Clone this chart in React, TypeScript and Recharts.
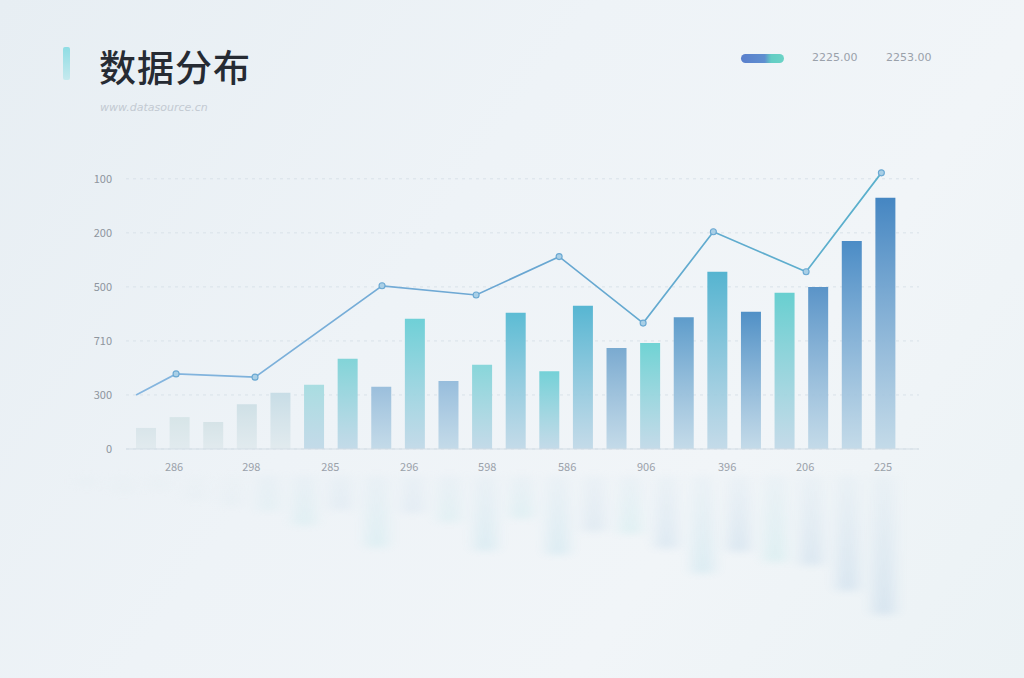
import React from "react";
import {
  ComposedChart,
  BarChart,
  Bar,
  Line,
  XAxis,
  YAxis,
  CartesianGrid,
  Cell,
} from "recharts";

// bar heights, left to right
const barValues = [39, 59, 50, 83, 104, 119, 167, 115, 241, 126, 156, 252, 144, 265, 187, 196, 244, 328, 254, 289, 300, 385, 465];
const barNames = barValues.map((_, i) => "b" + i);

// line points (x in bar-index units)
const lineX = [-0.3, 0.89, 3.24, 7.02, 9.82, 12.29, 14.79, 16.88, 19.64, 21.88];
const lineValues = [100, 139, 133, 302, 285, 356, 233, 402, 328, 511];

// axis labels
const yMax = 520;
const yTicks = [0, 100, 200, 300, 400, 500];
const yLabels = ["0", "300", "710", "500", "200", "100"];
const xTickPos = [0.83, 3.13, 5.48, 7.83, 10.15, 12.53, 14.88, 17.29, 19.61, 21.93];
const xLabels = ["286", "298", "285", "296", "598", "586", "906", "396", "206", "225"];

const legendLabels = ["2225.00", "2253.00"];

const barTop = [
  "#d9e5ea", "#d7e5e8", "#d5e3e7", "#cfe0e6", "#c8dde6", "#a9dde1", "#82d4d8", "#9bbfdc",
  "#6fd0d7", "#97bddc", "#88d6da", "#5cbcd4", "#74d1d7", "#57b6d2", "#7aaad0", "#70d3d4",
  "#5e9ccb", "#55b4d0", "#5090c6", "#68cfd0", "#5a94c8", "#4b8cc6", "#4586c2",
];

const barData = barValues.map((v, i) => ({ name: barNames[i], value: v }));
const lineData = lineX.map((x, i) => ({ x, v: lineValues[i] }));

const W = 1024;
const H = 678;
const margin = { top: 168, right: 105, left: 66, bottom: 199 };

function Gradients() {
  return (
    <defs>
      {barTop.map((c, i) => (
        <linearGradient key={i} id={"bg" + i} x1="0" y1="0" x2="0" y2="1">
          <stop offset="0%" stopColor={c} stopOpacity={1} />
          <stop offset="100%" stopColor={i < 5 ? "#dfe9ed" : "#bcd6e6"} stopOpacity={0.85} />
        </linearGradient>
      ))}
      <linearGradient id="lineGrad" x1="0" y1="0" x2="1" y2="0">
        <stop offset="0%" stopColor="#86b6df" />
        <stop offset="50%" stopColor="#6aa6d2" />
        <stop offset="100%" stopColor="#5ab0cc" />
      </linearGradient>
    </defs>
  );
}

const renderDot = (p: any) => {
  if (p.index === 0) return <g key={"d" + p.index} />;
  return (
    <circle key={"d" + p.index} cx={p.cx} cy={p.cy} r={3} fill="#a9cfe6" stroke="#6aa8d2" strokeWidth={1.1} />
  );
};

// grid only at the labelled ticks, not at the domain top
const gridRows = (props: any) => {
  const o = props.offset || {};
  const top = o.top ?? margin.top;
  const h = o.height ?? H - margin.top - margin.bottom - 30;
  return yTicks.map((t) => top + h * (1 - t / yMax));
};

function Reflection() {
  return (
    <div
      style={{
        position: "absolute",
        left: 0,
        top: 0,
        width: W,
        height: H,
        transformOrigin: "0 450px",
        transform: "translateY(40px) scaleY(-0.5)",
        filter: "blur(7px)",
        opacity: 0.13,
        pointerEvents: "none",
      }}
    >
      <BarChart width={W} height={H} data={barData} margin={margin}>
        <Gradients />
        <XAxis dataKey="name" hide height={30} padding={{ left: 3, right: 17 }} />
        <YAxis hide domain={[0, yMax]} width={60} />
        <Bar dataKey="value" barSize={22} isAnimationActive={false}>
          {barData.map((_, i) => (
            <Cell key={i} fill={`url(#bg${i})`} />
          ))}
        </Bar>
      </BarChart>
    </div>
  );
}

export default function App() {
  return (
    <div
      style={{
        position: "fixed",
        left: 0,
        top: 0,
        width: W,
        height: H,
        overflow: "hidden",
        background: "linear-gradient(125deg, #e7eef3 0%, #eef3f7 40%, #f1f5f8 70%, #ebf2f5 100%)",
        fontFamily: "'Noto Sans CJK SC', 'Noto Sans', sans-serif",
      }}
    >
      <Reflection />

      {/* title */}
      <div
        style={{
          position: "absolute",
          left: 63,
          top: 47,
          width: 7,
          height: 33,
          borderRadius: 2,
          background: "linear-gradient(180deg, #8fdde4, #c6e9ee)",
        }}
      />
      <div
        style={{
          position: "absolute",
          left: 99,
          top: 39,
          fontSize: 37,
          fontWeight: 500,
          color: "#262b33",
          letterSpacing: 1,
        }}
      >
        数据分布
      </div>
      <div
        style={{
          position: "absolute",
          left: 100,
          top: 101,
          fontSize: 11,
          fontStyle: "italic",
          color: "#c3cad2",
          fontFamily: "'DejaVu Sans', sans-serif",
        }}
      >
        www.datasource.cn
      </div>

      {/* legend */}
      <div
        style={{
          position: "absolute",
          left: 741,
          top: 54,
          width: 43,
          height: 9,
          borderRadius: 5,
          background: "linear-gradient(90deg, #5a7fcc 0%, #5f8fd0 55%, #62cdc4 70%, #6bd3c6 100%)",
        }}
      />
      {legendLabels.map((t, i) => (
        <div
          key={t}
          style={{
            position: "absolute",
            left: 812 + i * 74,
            top: 51,
            fontSize: 11,
            color: "#9aa1aa",
            fontFamily: "'DejaVu Sans', sans-serif",
          }}
        >
          {t}
        </div>
      ))}

      <div style={{ position: "absolute", left: 0, top: 0 }}>
        <ComposedChart width={W} height={H} data={barData} margin={margin}>
          <Gradients />
          <CartesianGrid
            xAxisId="num"
            vertical={false}
            stroke="#d9e2e9"
            strokeDasharray="3 4"
            horizontalCoordinatesGenerator={gridRows}
          />
          <XAxis
            xAxisId="num"
            dataKey="x"
            type="number"
            domain={[-0.6, 23]}
            allowDataOverflow
            ticks={xTickPos}
            tickFormatter={(v: number) => xLabels[xTickPos.indexOf(v)] ?? ""}
            tickLine={false}
            axisLine={{ stroke: "#d3dde5" }}
            tick={{ fill: "#9aa1aa", fontSize: 11 }}
            tickMargin={8}
            height={30}
            interval={0}
          />
          <XAxis xAxisId="bar" dataKey="name" hide height={0} padding={{ left: 3, right: 17 }} />
          <YAxis
            domain={[0, yMax]}
            ticks={yTicks}
            tickFormatter={(v: number) => yLabels[yTicks.indexOf(v)] ?? ""}
            axisLine={false}
            tickLine={false}
            tick={{ fill: "#8e959e", fontSize: 11 }}
            tickMargin={8}
            width={60}
          />
          <Bar xAxisId="bar" dataKey="value" barSize={20} isAnimationActive={false}>
            {barData.map((_, i) => (
              <Cell key={i} fill={`url(#bg${i})`} />
            ))}
          </Bar>
          <Line
            xAxisId="num"
            data={lineData}
            dataKey="v"
            type="linear"
            stroke="url(#lineGrad)"
            strokeWidth={1.7}
            dot={renderDot}
            activeDot={false}
            isAnimationActive={false}
          />
        </ComposedChart>
      </div>
    </div>
  );
}
